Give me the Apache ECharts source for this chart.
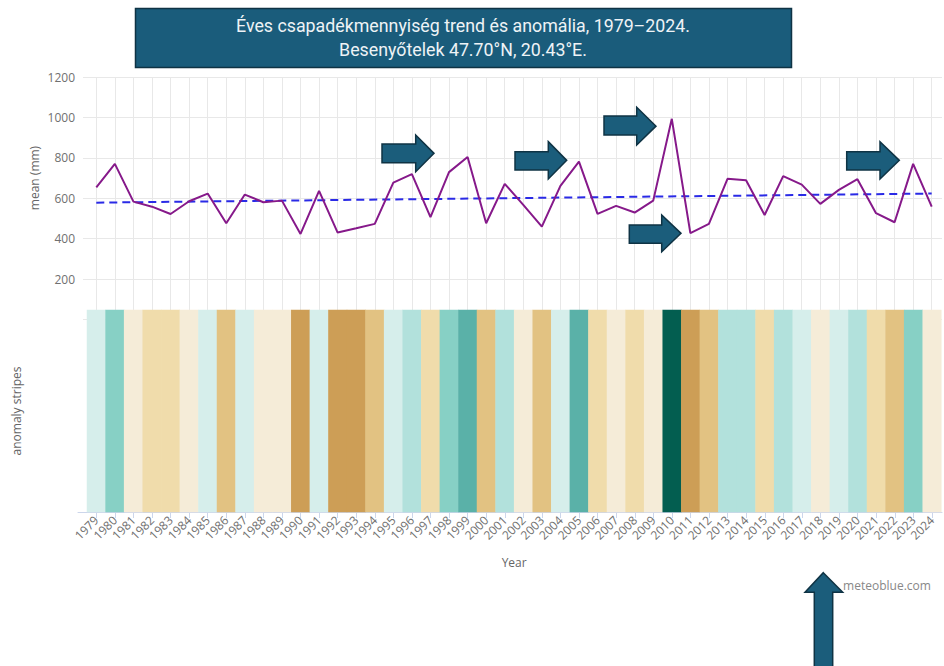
<!DOCTYPE html>
<html>
<head>
<meta charset="utf-8">
<script src="https://cdn.jsdelivr.net/npm/echarts@6/dist/echarts.min.js"></script>
<style>
html,body{margin:0;padding:0;background:#fff;}
#chart{width:944px;height:666px;}
</style>
</head>
<body>
<div id="chart"></div>
<script>
// ---- data ----
const years = ['1979','1980','1981','1982','1983','1984','1985','1986','1987','1988',
  '1989','1990','1991','1992','1993','1994','1995','1996','1997','1998',
  '1999','2000','2001','2002','2003','2004','2005','2006','2007','2008',
  '2009','2010','2011','2012','2013','2014','2015','2016','2017','2018',
  '2019','2020','2021','2022','2023','2024'];
const meanPrecip = [654, 770, 583, 558, 522, 585, 623, 476, 618, 580,
  588, 423, 636, 430, 451, 473, 677, 719, 506, 729,
  804, 476, 671, 567, 459, 661, 781, 522, 562, 529,
  588, 993, 427, 473, 696, 689, 517, 709, 667, 572,
  641, 694, 526, 481, 770, 558];
// anomaly class of each stripe (-4 very dry ... +5 very wet)
const anomalyLevel = [1, 3, -1, -2, -2, -1, 1, -3, 1, -1,
  -1, -4, 1, -4, -4, -3, 1, 2, -2, 3,
  4, -3, 2, -1, -3, 1, 4, -2, -1, -2,
  -1, 5, -4, -3, 2, 2, -2, 2, 1, -1,
  1, 2, -2, -3, 3, -1];
const trendYears = ['1979', '2024'];
const trendValues = [578, 623];
const yTicks = [0, 1200, 200]; // min, max, step

const chart = echarts.init(document.getElementById('chart'), null, {renderer: 'svg'});

const labelFont = '"Open Sans", "DejaVu Sans", sans-serif';
const gridColor = '#e8e8e8';

function arrowRight(x0, x1, xh, yTop, yBot, bTop, bBot) {
  const yMid = (yTop + yBot) / 2;
  return [[x0, bTop], [xh, bTop], [xh, yTop], [x1, yMid], [xh, yBot], [xh, bBot], [x0, bBot]];
}
const arrowStyle = {fill: '#1b5d7b', stroke: '#0f3344', lineWidth: 1.5};

const option = {
  backgroundColor: '#ffffff',
  animation: false,
  grid: [
    {left: 83, right: 2, top: 77, height: 242.4},
    {left: 96.3, right: 12.3, top: 77, height: 242.4},
    {left: 87, right: 2.7, top: 310, height: 202},
    {left: 78, right: 2, top: 310, height: 202}
  ],
  xAxis: [
    {gridIndex: 0, type: 'value', min: 0, max: 1, show: false},
    {gridIndex: 1, type: 'category', data: years, boundaryGap: false,
     axisLine: {show: false}, axisTick: {show: false}, axisLabel: {show: false},
     splitLine: {show: true, interval: 0, lineStyle: {color: gridColor, width: 1}}},
    {gridIndex: 2, type: 'category', data: years, boundaryGap: true,
     axisLine: {show: false},
     axisTick: {show: true, alignWithLabel: true, length: 6, lineStyle: {color: '#ccd6eb'}},
     axisLabel: {interval: 0, rotate: 45, color: '#707070', fontSize: 12, fontFamily: labelFont, margin: 6},
     splitLine: {show: false},
     name: 'Year', nameLocation: 'middle', nameGap: 44,
     nameTextStyle: {color: '#666666', fontSize: 12, fontFamily: labelFont}},
    {gridIndex: 3, type: 'value', min: 0, max: 1,
     axisLine: {show: true, lineStyle: {color: '#ccd6eb', width: 1}},
     axisTick: {show: false}, axisLabel: {show: false}, splitLine: {show: false}}
  ],
  yAxis: [
    {gridIndex: 0, type: 'value', min: yTicks[0], max: yTicks[1], interval: yTicks[2],
     axisLine: {show: false}, axisTick: {show: false},
     axisLabel: {showMinLabel: false, color: '#707070', fontSize: 12, fontFamily: labelFont, margin: 8,
       formatter: v => String(v)},
     splitLine: {show: true, lineStyle: {color: gridColor, width: 1}}},
    {gridIndex: 1, type: 'value', min: yTicks[0], max: yTicks[1], interval: yTicks[2], show: false},
    {gridIndex: 2, type: 'category', data: [''],
     axisLine: {show: false}, axisTick: {show: false}, axisLabel: {show: false},
     name: 'anomaly stripes', nameLocation: 'middle', nameGap: 65,
     nameTextStyle: {color: '#666666', fontSize: 12, fontFamily: labelFont}},
    {gridIndex: 3, type: 'value', show: false}
  ],
  visualMap: {
    type: 'piecewise', show: false, seriesIndex: 2, dimension: 2,
    pieces: [
      {value: -4, color: '#cd9e56'},
      {value: -3, color: '#e2c282'},
      {value: -2, color: '#f0dcab'},
      {value: -1, color: '#f5ecd8'},
      {value: 1, color: '#d6eeeb'},
      {value: 2, color: '#b2e1dc'},
      {value: 3, color: '#87d0c5'},
      {value: 4, color: '#5ab1a8'},
      {value: 5, color: '#035e50'}
    ]
  },
  series: [
    {type: 'line', xAxisIndex: 1, yAxisIndex: 1, data: meanPrecip,
     symbol: 'none', lineStyle: {color: '#86198a', width: 2}, z: 4},
    {type: 'line', xAxisIndex: 1, yAxisIndex: 1,
     data: trendYears.map((y, i) => [y, trendValues[i]]),
     symbol: 'none', lineStyle: {color: '#2a2ae6', width: 2, type: [8, 5]}, z: 3},
    {type: 'heatmap', xAxisIndex: 2, yAxisIndex: 2,
     data: years.map((y, i) => [i, 0, anomalyLevel[i]]),
     itemStyle: {borderWidth: 0}, z: 2}
  ],
  graphic: [
    {type: 'rect', shape: {x: 135.5, y: 8.5, width: 656, height: 59},
     style: {fill: '#1a5c7b', stroke: '#0f3344', lineWidth: 1.5}, z: 10},
    {type: 'text', x: 463, y: 25, z: 11,
     style: {text: 'Éves csapadékmennyiség trend és anomália, 1979–2024.', fill: '#eef3f6',
       font: '17.8px Roboto, "Open Sans", sans-serif', textAlign: 'center', textVerticalAlign: 'middle'}},
    {type: 'text', x: 463, y: 49, z: 11,
     style: {text: 'Besenyőtelek 47.70°N, 20.43°E.', fill: '#eef3f6',
       font: '17.8px Roboto, "Open Sans", sans-serif', textAlign: 'center', textVerticalAlign: 'middle'}},
    {type: 'text', x: 34, y: 178, rotation: Math.PI / 2, z: 11,
     style: {text: 'mean (mm)', fill: '#666666', font: '12px "Open Sans", sans-serif',
       textAlign: 'center', textVerticalAlign: 'middle'}},
    {type: 'text', x: 887, y: 585, z: 11,
     style: {text: 'meteoblue.com', fill: '#888888', font: '12px "Open Sans", sans-serif',
       textAlign: 'center', textVerticalAlign: 'middle'}},
    {type: 'polygon', z: 12, shape: {points: arrowRight(382, 434, 415.7, 135, 171.7, 144, 162.7)}, style: arrowStyle},
    {type: 'polygon', z: 12, shape: {points: arrowRight(515, 566.7, 548.3, 141.7, 179, 151.7, 170)}, style: arrowStyle},
    {type: 'polygon', z: 12, shape: {points: arrowRight(604, 656, 636.7, 107.3, 145, 116, 135)}, style: arrowStyle},
    {type: 'polygon', z: 12, shape: {points: arrowRight(629.3, 681, 661.7, 215, 251.7, 225, 243.3)}, style: arrowStyle},
    {type: 'polygon', z: 12, shape: {points: arrowRight(846.7, 899.3, 880, 141.7, 179, 151.7, 170)}, style: arrowStyle},
    {type: 'polygon', z: 12, shape: {points: [[823.3, 572.7], [842.7, 592.3], [832.7, 592.3], [832.7, 667], [814.3, 667], [814.3, 592.3], [805, 592.3]]}, style: arrowStyle}
  ]
};
chart.setOption(option);
</script>
</body>
</html>
